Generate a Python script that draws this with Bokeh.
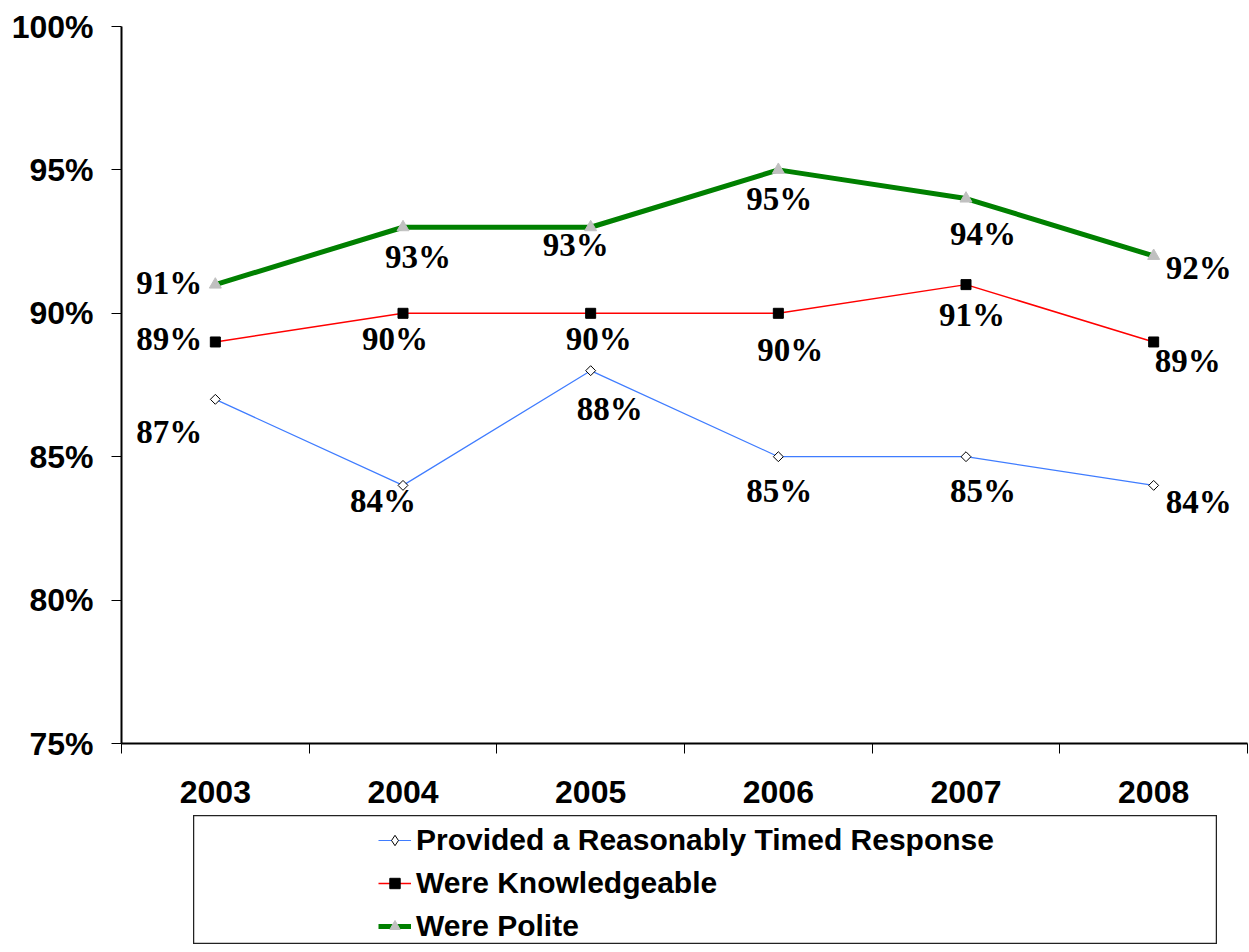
import math
from bokeh.plotting import figure
from bokeh.models import ColumnDataSource, FixedTicker, Range1d, Legend, LegendItem, Spacer
from bokeh.layouts import column, row
from bokeh.embed import file_html
from bokeh.resources import INLINE
from bokeh.core.properties import value

# ---- data ----
years = ["2003", "2004", "2005", "2006", "2007", "2008"]
timed = [87, 84, 88, 85, 85, 84]
knowledgeable = [89, 90, 90, 90, 91, 89]
polite = [91, 93, 93, 95, 94, 92]
y_ticks = [75, 80, 85, 90, 95, 100]
y_tick_labels = ["75%", "80%", "85%", "90%", "95%", "100%"]
series_names = ["Provided a Reasonably Timed Response", "Were Knowledgeable", "Were Polite"]

# ---- label placement (screen px offsets, style only) ----
timed_dx = [-46, -20, 19, 1, 17, 45]
timed_dy = [33, 16, 38, 34, 34, 17]
know_dx = [-46, -8, 8, 12, 6, 34]
know_dy = [-3, 26, 26, 37, 30, 19]
pol_dx = [-46, 15, -15, 1, 17, 45]
pol_dy = [-2, 30, 18, 29, 35, 12]

xs = list(range(len(years)))

def src(vals, dx, dy):
    return ColumnDataSource(dict(x=xs, y=vals, lbl=[f"{v}%" for v in vals], dx=dx, dy=dy))

s_timed = src(timed, timed_dx, timed_dy)
s_know = src(knowledgeable, know_dx, know_dy)
s_pol = src(polite, pol_dx, pol_dy)

BLUE = "#3f7cff"
RED = "#ff0000"
GREEN = "#008000"
GRAY = "#c0c0c0"

p = figure(width=1248, height=815, output_backend="svg", toolbar_location=None,
           x_range=Range1d(-0.5, len(years) - 0.5), y_range=Range1d(75, 100),
           min_border_left=121, min_border_right=1, min_border_top=26, min_border_bottom=72)
p.outline_line_color = None
p.grid.visible = False

# axes
p.yaxis.ticker = FixedTicker(ticks=y_ticks)
p.yaxis.major_label_overrides = {t: l for t, l in zip(y_ticks, y_tick_labels)}
p.yaxis.axis_line_width = 2
p.yaxis.major_tick_out = 10
p.yaxis.major_tick_in = 0
p.yaxis.minor_tick_out = 0
p.yaxis.minor_tick_in = 0
p.yaxis.major_label_standoff = 18
p.yaxis.major_label_text_font = "Liberation Sans"
p.yaxis.major_label_text_font_style = "bold"
p.yaxis.major_label_text_font_size = "32px"
p.yaxis.major_label_text_color = "black"

p.xaxis.ticker = FixedTicker(ticks=xs, minor_ticks=[i - 0.5 for i in range(len(years) + 1)])
p.xaxis.major_label_overrides = {i: y for i, y in zip(xs, years)}
p.xaxis.axis_line_width = 2
p.xaxis.major_tick_out = 0
p.xaxis.major_tick_in = 0
p.xaxis.minor_tick_out = 10
p.xaxis.minor_tick_in = 0
p.xaxis.minor_tick_line_color = "black"
p.xaxis.minor_tick_line_width = 1
p.xaxis.major_label_standoff = 27
p.xaxis.major_label_text_font = "Liberation Sans"
p.xaxis.major_label_text_font_style = "bold"
p.xaxis.major_label_text_font_size = "32px"
p.xaxis.major_label_text_color = "black"

# series
p.line("x", "y", source=s_timed, line_color=BLUE, line_width=1.2)
p.scatter("x", "y", source=s_timed, marker="square", angle=math.pi / 4, size=7,
          fill_color="white", line_color="black", line_width=1)
p.line("x", "y", source=s_know, line_color=RED, line_width=1.5)
p.scatter("x", "y", source=s_know, marker="square", size=10,
          fill_color="black", line_color="black")
p.line("x", "y", source=s_pol, line_color=GREEN, line_width=5)
p.scatter("x", "y", source=s_pol, marker="triangle", size=12,
          fill_color=GRAY, line_color=GRAY)

for s in (s_timed, s_know, s_pol):
    p.text("x", "y", text="lbl", source=s, x_offset="dx", y_offset="dy",
           text_align="center", text_baseline="middle",
           text_font=value("Liberation Serif"), text_font_style="bold",
           text_font_size="33px", text_color="black")

# ---- legend panel ----
p2 = figure(width=1024, height=129, output_backend="svg", toolbar_location=None,
            x_range=Range1d(1000, 1001), y_range=Range1d(1000, 1001),
            x_axis_location=None, y_axis_location=None,
            min_border_left=0, min_border_right=0, min_border_top=0, min_border_bottom=0)
p2.grid.visible = False
p2.outline_line_color = "#222222"
p2.outline_line_width = 1.5

l1 = p2.line("x", "y", source=s_timed, line_color=BLUE, line_width=1.2)
m1 = p2.scatter("x", "y", source=s_timed, marker="diamond", size=7,
                fill_color="white", line_color="black", line_width=1)
l2 = p2.line("x", "y", source=s_know, line_color=RED, line_width=1.5)
m2 = p2.scatter("x", "y", source=s_know, marker="square", size=10,
                fill_color="black", line_color="black")
l3 = p2.line("x", "y", source=s_pol, line_color=GREEN, line_width=5)
m3 = p2.scatter("x", "y", source=s_pol, marker="triangle", size=12,
                fill_color=GRAY, line_color=GRAY)

legend = Legend(items=[LegendItem(label=series_names[0], renderers=[l1, m1]),
                       LegendItem(label=series_names[1], renderers=[l2, m2]),
                       LegendItem(label=series_names[2], renderers=[l3, m3])],
                location=(185, -3), padding=0, margin=0, spacing=0,
                glyph_width=33, glyph_height=26, label_height=43, label_standoff=5,
                border_line_alpha=0, background_fill_alpha=0,
                label_text_font="Liberation Sans", label_text_font_style="bold",
                label_text_font_size="30px", label_text_color="black")
p2.add_layout(legend, "center")

layout = column(p, row(Spacer(width=193, height=129), p2, spacing=0), spacing=0)
open("out.html", "w").write(file_html(layout, INLINE))
